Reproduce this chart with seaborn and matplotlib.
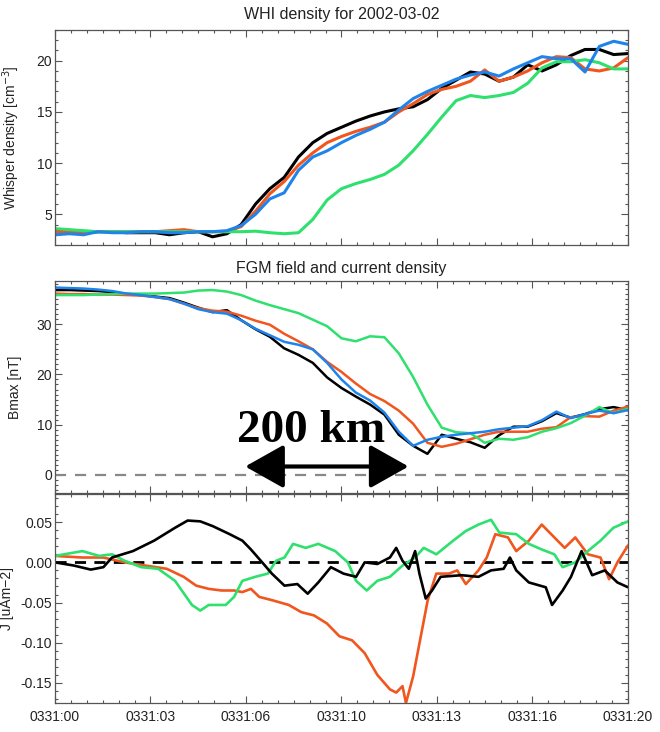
import numpy as np
import pandas as pd
import matplotlib
matplotlib.use("Agg")
import matplotlib.pyplot as plt
from matplotlib.ticker import FixedLocator, MultipleLocator, FormatStrFormatter
import seaborn as sns

# ---------------------------------------------------------------- data
# time in seconds after 03:31:00 UT, 2002-03-02
t_grid = np.arange(0.0, 20.01, 0.5)

# WHISPER electron density [cm^-3] for the four Cluster spacecraft
dens_c1 = [3.3, 3.3, 3.2, 3.3, 3.3, 3.2, 3.2, 3.2, 3.0, 3.2, 3.3, 2.8, 3.1, 4.0, 6.0, 7.5,
           8.6, 10.6, 12.0, 12.9, 13.5, 14.1, 14.6, 15.0, 15.3, 15.5, 16.2, 17.3, 18.1, 18.9,
           18.7, 18.0, 18.4, 19.6, 19.0, 19.6, 20.5, 21.1, 21.1, 20.6, 20.7]
dens_c2 = [3.3, 3.3, 3.2, 3.3, 3.3, 3.3, 3.3, 3.3, 3.4, 3.5, 3.3, 3.3, 3.3, 3.8, 5.3, 7.0,
           8.2, 9.8, 11.0, 12.0, 12.6, 13.1, 13.5, 14.0, 15.0, 15.8, 16.7, 17.2, 17.5, 18.0,
           19.1, 18.0, 18.4, 19.0, 19.8, 20.4, 20.3, 19.2, 19.0, 19.3, 20.3]
dens_c3 = [3.6, 3.5, 3.4, 3.3, 3.3, 3.3, 3.3, 3.3, 3.3, 3.3, 3.3, 3.3, 3.3, 3.3, 3.35, 3.2,
           3.1, 3.2, 4.5, 6.4, 7.5, 8.0, 8.4, 8.9, 9.8, 11.2, 12.8, 14.5, 16.1, 16.6,
           16.4, 16.6, 16.9, 17.8, 19.3, 19.9, 19.9, 20.1, 19.8, 19.2, 19.2]
dens_c4 = [3.0, 3.1, 3.0, 3.3, 3.2, 3.2, 3.3, 3.3, 3.2, 3.2, 3.3, 3.3, 3.4, 3.9, 5.0, 6.5,
           7.1, 9.3, 10.6, 11.2, 12.0, 12.7, 13.3, 14.0, 15.2, 16.3, 17.0, 17.6, 18.2, 18.6,
           18.9, 18.5, 19.2, 19.8, 20.4, 20.2, 20.2, 18.9, 21.4, 21.9, 21.6]

# FGM maximum-variance field component [nT]
b_c1 = [36.8, 36.8, 36.7, 36.6, 36.4, 36.0, 35.8, 35.5, 35.2, 34.3, 33.3, 32.4, 32.8, 30.8,
        29.0, 27.5, 25.2, 23.9, 22.3, 19.4, 17.3, 15.6, 14.0, 12.0, 8.0, 5.8, 4.2, 8.0,
        7.2, 6.5, 5.4, 7.9, 9.6, 9.6, 10.7, 12.3, 11.4, 12.1, 13.1, 13.5, 12.9]
b_c2 = [36.1, 36.0, 36.0, 35.9, 35.9, 35.8, 35.7, 35.4, 35.0, 34.1, 33.2, 32.7, 32.5, 31.7,
        30.7, 29.9, 28.1, 26.6, 25.0, 22.5, 20.5, 18.2, 16.1, 14.7, 12.8, 10.2, 6.4, 5.6,
        6.2, 7.1, 8.0, 8.6, 8.6, 8.6, 9.2, 9.5, 11.5, 11.7, 11.6, 12.8, 13.6]
b_c3 = [35.8, 35.8, 35.8, 35.9, 36.0, 36.1, 36.1, 36.1, 36.2, 36.3, 36.7, 36.8, 36.5, 35.8,
        34.7, 33.8, 33.0, 32.2, 30.9, 29.6, 27.2, 26.6, 27.6, 27.4, 24.2, 19.5, 14.0, 9.4,
        8.5, 8.3, 6.4, 7.2, 7.0, 7.5, 8.6, 9.3, 10.3, 11.8, 13.5, 12.3, 13.2]
b_c4 = [37.3, 37.2, 37.1, 36.9, 36.6, 36.1, 35.8, 35.4, 35.0, 34.1, 33.0, 32.4, 32.1, 30.8,
        29.1, 27.8, 26.5, 25.9, 25.0, 22.3, 19.0, 16.4, 14.8, 12.4, 8.6, 5.8, 7.0, 7.6,
        8.0, 8.3, 8.6, 9.1, 9.4, 9.7, 10.9, 12.6, 11.3, 12.1, 12.8, 12.3, 12.9]

# current density [uA m^-2]
j_c1_t = [0.0, 0.66, 1.25, 1.69, 1.99, 2.72, 3.46, 4.19, 4.63, 5.07, 5.51, 6.10, 6.54, 6.84,
          7.28, 7.57, 8.01, 8.46, 8.82, 9.19, 9.63, 10.07, 10.51, 10.81, 11.25, 11.69, 11.91,
          12.13, 12.35, 12.57, 12.72, 12.94, 13.16, 13.46, 14.19, 14.78, 15.22, 15.66, 15.88,
          16.10, 16.54, 17.13, 17.35, 17.72, 18.01, 18.38, 18.75, 19.19, 19.63, 20.0]
j_c1 = [0.000, -0.004, -0.009, -0.006, 0.006, 0.014, 0.027, 0.043, 0.052, 0.051, 0.045, 0.035,
        0.027, 0.016, -0.002, -0.014, -0.029, -0.027, -0.039, -0.025, -0.006, -0.014, -0.018,
        0.000, -0.002, 0.006, 0.018, 0.002, -0.008, 0.014, -0.014, -0.045, -0.035, -0.018,
        -0.016, -0.018, -0.010, -0.008, 0.006, -0.010, -0.025, -0.031, -0.053, -0.035, -0.018,
        0.014, -0.016, -0.010, -0.025, -0.031]
j_c2_t = [0.0, 0.96, 1.69, 2.43, 3.16, 3.90, 4.49, 4.93, 5.37, 5.81, 6.25, 6.54, 6.84, 7.13,
          7.57, 8.16, 8.60, 9.04, 9.49, 9.93, 10.37, 10.81, 11.25, 11.69, 11.91, 12.13, 12.25,
          12.50, 12.72, 13.01, 13.31, 13.75, 14.04, 14.34, 14.78, 15.07, 15.37, 15.81, 16.10,
          16.54, 16.99, 17.43, 17.79, 18.16, 18.60, 19.04, 19.34, 19.63, 20.0]
j_c2 = [0.008, 0.006, 0.006, 0.000, -0.004, -0.008, -0.018, -0.029, -0.033, -0.035, -0.035,
        -0.037, -0.033, -0.043, -0.047, -0.053, -0.062, -0.066, -0.076, -0.092, -0.097, -0.113,
        -0.140, -0.158, -0.162, -0.154, -0.175, -0.142, -0.101, -0.047, -0.014, -0.014, -0.010,
        -0.027, -0.010, 0.006, 0.035, 0.031, 0.014, 0.027, 0.047, 0.031, 0.018, 0.031, 0.010,
        0.006, -0.021, 0.000, 0.021]
j_c3_t = [0.0, 0.96, 1.54, 1.99, 2.43, 3.01, 3.60, 4.19, 4.78, 5.07, 5.37, 5.96, 6.25, 6.54,
          6.99, 7.43, 7.72, 8.01, 8.31, 8.75, 9.19, 9.78, 10.22, 10.51, 10.88, 11.25, 11.69,
          12.13, 12.57, 12.87, 13.31, 13.90, 14.34, 14.78, 15.22, 15.51, 16.10, 16.54, 16.99,
          17.43, 17.72, 18.16, 18.60, 19.04, 19.49, 20.0]
j_c3 = [0.008, 0.014, 0.008, 0.010, 0.002, -0.006, -0.008, -0.023, -0.053, -0.060, -0.053,
        -0.053, -0.043, -0.023, -0.018, -0.014, 0.002, 0.006, 0.023, 0.018, 0.023, 0.014, 0.000,
        -0.023, -0.035, -0.023, -0.018, -0.004, 0.006, 0.018, 0.010, 0.027, 0.039, 0.047, 0.053,
        0.037, 0.035, 0.023, 0.016, 0.010, -0.006, 0.000, 0.014, 0.027, 0.043, 0.051]

tick_pos = [0, 10 / 3, 20 / 3, 10, 40 / 3, 50 / 3, 20]
tick_labels = ["0331:00", "0331:03", "0331:06", "0331:10", "0331:13", "0331:16", "0331:20"]

colors = {"C1": "#000000", "C2": "#f0561e", "C3": "#2ee06e", "C4": "#1e84ec"}

# ---------------------------------------------------------------- style
sns.set_style("ticks")
plt.rcParams["font.family"] = ["Liberation Sans Narrow", "Liberation Sans", "DejaVu Sans"]
plt.rcParams["axes.unicode_minus"] = False
plt.rcParams["axes.edgecolor"] = "#555555"
plt.rcParams["axes.linewidth"] = 0.9
plt.rcParams["text.color"] = "#222222"
plt.rcParams["axes.labelcolor"] = "#222222"

TICK_FS = 10
LABEL_FS = 10
TITLE_FS = 11.5


def long_form(t, series):
    frames = []
    for name, vals in series.items():
        frames.append(pd.DataFrame({"t": t[name] if isinstance(t, dict) else t,
                                    "val": vals, "sc": name}))
    return pd.concat(frames, ignore_index=True)


def style_axis(ax, ymaj, ymin, labels_x=False):
    ax.set_xlim(0, 20)
    ax.xaxis.set_major_locator(FixedLocator(tick_pos))
    ax.xaxis.set_minor_locator(FixedLocator(np.linspace(0, 20, 37)))
    ax.yaxis.set_major_locator(MultipleLocator(ymaj))
    ax.yaxis.set_minor_locator(MultipleLocator(ymin))
    ax.tick_params(which="both", direction="in", top=True, right=True,
                   color="#555555", width=0.8, labelsize=TICK_FS, pad=2,
                   labelcolor="#222222")
    ax.tick_params(which="major", length=5)
    ax.tick_params(which="minor", length=2.5)
    if labels_x:
        ax.set_xticklabels(tick_labels)
    else:
        ax.set_xticklabels([])
    ax.set_xlabel("")
    for s in ax.spines.values():
        s.set_visible(True)


fig = plt.figure(figsize=(6.6, 7.32), dpi=100)
ax1 = fig.add_axes([0.0833, 0.6653, 0.8682, 0.2937])
ax2 = fig.add_axes([0.0833, 0.3265, 0.8682, 0.2896])
ax3 = fig.add_axes([0.0833, 0.0396, 0.8682, 0.2855])

# ---- WHISPER density
df1 = long_form(t_grid, {"C1": dens_c1, "C2": dens_c2, "C3": dens_c3, "C4": dens_c4})
sns.lineplot(data=df1, x="t", y="val", hue="sc", hue_order=["C1", "C2", "C3", "C4"],
             palette=colors, estimator=None, sort=False, lw=2.2, legend=False, ax=ax1)
ax1.set_ylim(2.0, 23.0)
style_axis(ax1, 5, 1)
ax1.set_ylabel("Whisper density [cm$^{-3}$]", fontsize=LABEL_FS)
ax1.set_title("WHI density for 2002-03-02", fontsize=TITLE_FS, pad=8)

# ---- FGM field
df2 = long_form(t_grid, {"C1": b_c1, "C2": b_c2, "C3": b_c3, "C4": b_c4})
ax2.axhline(0, color="#888888", lw=1.6, ls=(0, (5, 4)), zorder=1)
sns.lineplot(data=df2, x="t", y="val", hue="sc", hue_order=["C1", "C2", "C3", "C4"],
             palette=colors, estimator=None, sort=False, lw=1.8, legend=False, ax=ax2)
ax2.set_ylim(-3.6, 38.6)
style_axis(ax2, 10, 1)
ax2.set_ylabel("Bmax [nT]", fontsize=LABEL_FS)
ax2.set_title("FGM field and current density", fontsize=TITLE_FS, pad=6)

# 200 km scale bar
ax2.annotate("", xy=(0.332, 0.125), xytext=(0.617, 0.125), xycoords="axes fraction",
             arrowprops=dict(arrowstyle="<|-|>,head_length=0.8,head_width=0.45",
                             mutation_scale=30, lw=3.0, color="black",
                             shrinkA=0, shrinkB=0))
ax2.text(0.447, 0.293, "200 km", transform=ax2.transAxes, ha="center", va="center",
         fontsize=34, fontweight="bold", family="Liberation Serif", color="black")

# ---- current density
df3 = long_form({"C1": j_c1_t, "C2": j_c2_t, "C3": j_c3_t},
                {"C1": j_c1, "C2": j_c2, "C3": j_c3})
ax3.axhline(0, color="black", lw=2.0, ls=(0, (4, 3)), zorder=1)
sns.lineplot(data=df3, x="t", y="val", hue="sc", hue_order=["C2", "C3", "C1"],
             palette=colors, estimator=None, sort=False, lw=1.9, legend=False, ax=ax3)
ax3.set_ylim(-0.175, 0.085)
style_axis(ax3, 0.05, 0.01, labels_x=True)
ax3.yaxis.set_major_formatter(FormatStrFormatter("%.2f"))
ax3.set_ylabel("J [uAm\u22122]", fontsize=LABEL_FS)
ax3.tick_params(axis="x", pad=5)

ax1.yaxis.set_label_coords(-0.058, 0.5)
ax2.yaxis.set_label_coords(-0.058, 0.5)
ax3.yaxis.set_label_coords(-0.072, 0.5)

fig.savefig("out.png", dpi=100)
